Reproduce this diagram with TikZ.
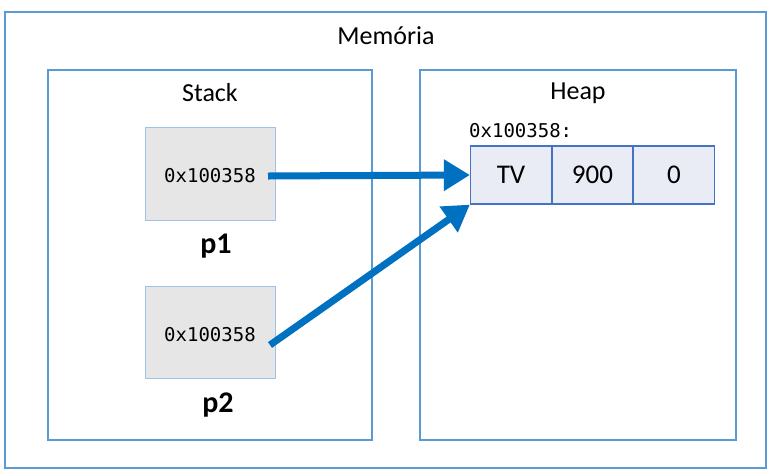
\documentclass[tikz,border=0pt]{standalone}
\usepackage{fontspec}
\setmainfont{Carlito}
\newfontfamily\monofnt{DejaVu Sans Mono}
\usetikzlibrary{arrows.meta}
\definecolor{frameblue}{HTML}{5B9BD5}
\definecolor{boxborder}{HTML}{9DC3E6}
\definecolor{boxgray}{HTML}{E7E6E6}
\definecolor{cellfill}{HTML}{E9EBF5}
\definecolor{cellborder}{HTML}{4472C4}
\definecolor{arrowblue}{HTML}{0070C0}
\begin{document}
\begin{tikzpicture}[x=1pt,y=-1pt,
  frame/.style={draw=frameblue,line width=1.3pt},
  ptrbox/.style={draw=boxborder,fill=boxgray,line width=1pt},
  cellbox/.style={draw=cellborder,fill=cellfill,line width=1.2pt,minimum width=81pt,minimum height=58pt,inner sep=0pt,font=\fontsize{27}{30}\selectfont},
  ttl/.style={font=\fontsize{26}{30}\selectfont},
  mono/.style={font=\monofnt\fontsize{19}{22}\selectfont},
  plabel/.style={font=\bfseries\fontsize{30}{34}\selectfont},
  ptr/.style={draw=arrowblue,line width=7pt,-{Triangle[length=26pt,width=30pt]}}]
\useasboundingbox (0,0) rectangle (770,475);
\draw[frame] (5,12) rectangle (766,468);
\node[ttl] (mem) at (386,36) {Memória};
\draw[frame] (48,70) rectangle (372,440);
\draw[frame] (420,70) rectangle (736,440);
\node[ttl] (stk) at (210,93) {Stack};
\node[ttl] (hp) at (578,93) {Heap};
\node[ptrbox,minimum width=130pt,minimum height=93pt,inner sep=0pt] (b1) at (210,173.5) {};
\node[mono] (t1) at (210,176) {0x100358};
\node[plabel] (p1) at (216,246) {p1};
\node[ptrbox,minimum width=130pt,minimum height=92pt,inner sep=0pt] (b2) at (210,332) {};
\node[mono] (t2) at (210,335) {0x100358};
\node[plabel] (p2) at (218,405) {p2};
\node[mono,anchor=west,inner sep=0pt] (addr) at (469,131) {0x100358:};
\node[cellbox] (c1) at (511,175) {TV};
\node[cellbox] (c2) at (592.5,175) {900};
\node[cellbox] (c3) at (674,175) {0};
\coordinate (s1) at (268,176);
\coordinate (s2) at (270,345);
\draw[ptr] (s1) -- (c1.west);
\draw[ptr] (s2) -- (c1.south west);
\end{tikzpicture}
\end{document}
